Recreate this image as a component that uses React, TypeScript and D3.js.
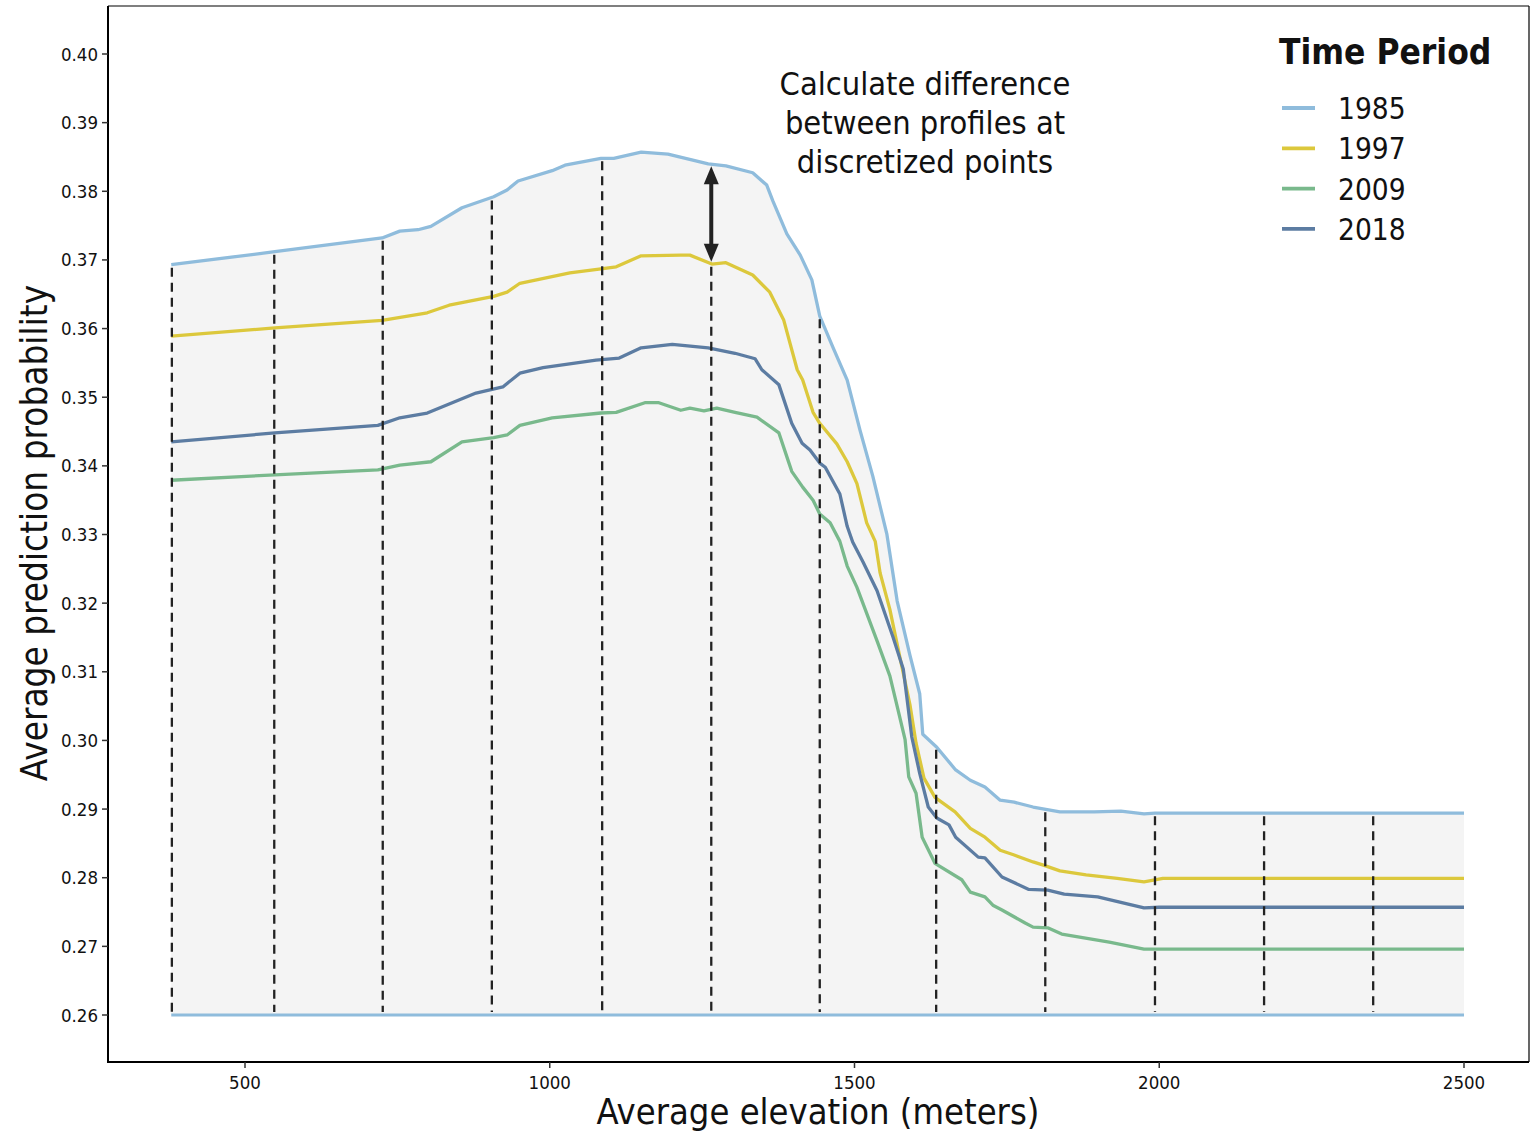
import React from "react";
import * as d3 from "d3";

const xTicks = [500, 1000, 1500, 2000, 2500];
const yTicks = [0.26, 0.27, 0.28, 0.29, 0.3, 0.31, 0.32, 0.33, 0.34, 0.35, 0.36, 0.37, 0.38, 0.39, 0.4];

const seriesNames = ["1985", "1997", "2009", "2018"];
const seriesColors = ["#8fbcdc", "#dcc83c", "#79b98c", "#5c7ca2"];

// [elevation, probability]
const s1985: [number, number][] = [
  [379, 0.3693], [549, 0.3712], [725, 0.3732], [754, 0.3742], [784, 0.3744], [805, 0.3749],
  [856, 0.3776], [908, 0.3792], [930, 0.3802], [948, 0.3815], [1004, 0.383], [1025, 0.3838],
  [1084, 0.3848], [1105, 0.3848], [1150, 0.3857], [1194, 0.3854], [1260, 0.384], [1289, 0.3837],
  [1333, 0.3827], [1356, 0.3809], [1366, 0.3786], [1389, 0.3738], [1411, 0.3707], [1430, 0.3671],
  [1443, 0.3618], [1465, 0.3572], [1488, 0.3525], [1509, 0.3452], [1530, 0.3385], [1553, 0.3301],
  [1570, 0.3203], [1591, 0.3124], [1607, 0.3068], [1612, 0.3009], [1635, 0.299], [1666, 0.2957],
  [1690, 0.2942], [1714, 0.2932], [1739, 0.2913], [1762, 0.291], [1793, 0.2903], [1837, 0.2896],
  [1893, 0.2896], [1937, 0.2897], [1975, 0.2893], [1993, 0.2894], [2500, 0.2894],
];
const s1997: [number, number][] = [
  [379, 0.3589], [549, 0.3601], [725, 0.3612], [799, 0.3623], [835, 0.3634], [908, 0.3647],
  [930, 0.3653], [951, 0.3666], [1033, 0.3681], [1084, 0.3687], [1109, 0.369], [1150, 0.3706],
  [1215, 0.3707], [1230, 0.3707], [1266, 0.3694], [1289, 0.3696], [1333, 0.3678], [1361, 0.3653],
  [1384, 0.3612], [1406, 0.354], [1415, 0.3525], [1432, 0.3478], [1443, 0.3462], [1471, 0.3432],
  [1488, 0.3406], [1504, 0.3374], [1520, 0.3317], [1534, 0.329], [1542, 0.3244], [1558, 0.3191],
  [1575, 0.3119], [1591, 0.3052], [1601, 0.2996], [1614, 0.2945], [1632, 0.2917], [1665, 0.2896],
  [1690, 0.2872], [1714, 0.2859], [1739, 0.284], [1762, 0.2833], [1793, 0.2823], [1811, 0.2818],
  [1837, 0.281], [1880, 0.2804], [1931, 0.2799], [1975, 0.2794], [2006, 0.2799], [2500, 0.2799],
];
const s2009: [number, number][] = [
  [379, 0.3379], [549, 0.3387], [718, 0.3394], [754, 0.3401], [805, 0.3406], [856, 0.3435],
  [908, 0.3441], [930, 0.3445], [951, 0.3459], [1004, 0.347], [1084, 0.3477], [1109, 0.3478],
  [1156, 0.3492], [1179, 0.3492], [1215, 0.3481], [1230, 0.3484], [1253, 0.348], [1274, 0.3484],
  [1304, 0.3478], [1340, 0.3471], [1376, 0.3448], [1391, 0.3408], [1397, 0.3392], [1415, 0.3369],
  [1432, 0.335], [1443, 0.333], [1460, 0.3317], [1476, 0.329], [1488, 0.3254], [1504, 0.3223],
  [1537, 0.3145], [1558, 0.3094], [1571, 0.3046], [1583, 0.3001], [1589, 0.2947], [1601, 0.2923],
  [1611, 0.2859], [1632, 0.2821], [1676, 0.2797], [1690, 0.2779], [1714, 0.2772], [1727, 0.276],
  [1742, 0.2753], [1780, 0.2734], [1793, 0.2728], [1817, 0.2727], [1840, 0.2718], [1918, 0.2706],
  [1975, 0.2696], [2500, 0.2696],
];
const s2018: [number, number][] = [
  [379, 0.3435], [549, 0.3448], [718, 0.3459], [754, 0.347], [799, 0.3477], [843, 0.3493],
  [879, 0.3506], [923, 0.3515], [951, 0.3535], [989, 0.3543], [1076, 0.3554], [1114, 0.3557],
  [1150, 0.3572], [1201, 0.3577], [1260, 0.3572], [1304, 0.3564], [1337, 0.3556], [1348, 0.354],
  [1376, 0.3518], [1397, 0.3462], [1414, 0.3433], [1427, 0.3423], [1443, 0.3404], [1452, 0.3398],
  [1476, 0.3359], [1488, 0.3312], [1497, 0.3289], [1514, 0.326], [1537, 0.3218], [1563, 0.3151],
  [1580, 0.3104], [1586, 0.3062], [1594, 0.3005], [1607, 0.2952], [1621, 0.2903], [1635, 0.2887],
  [1655, 0.2877], [1666, 0.2859], [1703, 0.283], [1714, 0.2829], [1742, 0.2801], [1786, 0.2783],
  [1817, 0.2782], [1844, 0.2776], [1899, 0.2772], [1937, 0.2764], [1975, 0.2756], [2000, 0.2757],
  [2500, 0.2757],
];
const allSeries = [s1985, s1997, s2009, s2018];

const discretePoints = [380, 548, 726, 905, 1086, 1265, 1443, 1634, 1813, 1993, 2172, 2351];
const arrowPoint = 1265;
const baseline = 0.26;

const annotationLines = ["Calculate difference", "between profiles at", "discretized points"];

const FONT = "'DejaVu Sans Condensed', 'DejaVu Sans', sans-serif";

function interp(series: [number, number][], x: number) {
  const i = d3.bisector((d: [number, number]) => d[0]).left(series, x);
  if (i <= 0) return series[0][1];
  if (i >= series.length) return series[series.length - 1][1];
  const a = series[i - 1], b = series[i];
  return a[1] + ((x - a[0]) / (b[0] - a[0])) * (b[1] - a[1]);
}

export default function App() {
  const x = d3.scaleLinear().domain([500, 2500]).range([245, 1464]);
  const y = d3.scaleLinear().domain([0.26, 0.4]).range([1015, 54]);
  const line = d3.line<[number, number]>().x((d) => x(d[0])).y((d) => y(d[1]));
  const area = d3
    .area<[number, number]>()
    .x((d) => x(d[0]))
    .y0(y(baseline))
    .y1((d) => y(d[1]));

  const left = 108, right = 1529, top = 6, bottom = 1062;

  const aTop = y(interp(s1985, arrowPoint)) + 2;
  const aBot = y(interp(s1997, arrowPoint)) - 2;
  const ax = x(arrowPoint);

  return (
    <div style={{ position: "absolute", left: 0, top: 0 }}>
      <svg width={1537} height={1133} style={{ display: "block", background: "#fff" }}>
        <path d={area(s1985) || ""} fill="#f4f4f4" />
        <line x1={x(s1985[0][0])} x2={x(2500)} y1={y(baseline)} y2={y(baseline)} stroke={seriesColors[0]} strokeWidth={2.8} />
        {allSeries.map((s, i) => (
          <path key={i} d={line(s) || ""} fill="none" stroke={seriesColors[i]} strokeWidth={3.3} strokeLinejoin="round" />
        ))}
        {discretePoints.map((p, i) => {
          const topV = p === arrowPoint ? interp(s1997, p) : interp(s1985, p);
          return (
            <line key={i} x1={x(p)} x2={x(p)} y1={y(topV) + 3} y2={y(baseline) - 3}
              stroke="#222" strokeWidth={2.3} strokeDasharray="9,6" />
          );
        })}
        {/* arrow */}
        <line x1={ax} x2={ax} y1={aTop + 14} y2={aBot - 14} stroke="#222" strokeWidth={4} />
        <path d={`M${ax},${aTop} L${ax - 7.5},${aTop + 18} L${ax + 7.5},${aTop + 18} Z`} fill="#222" />
        <path d={`M${ax},${aBot} L${ax - 7.5},${aBot - 18} L${ax + 7.5},${aBot - 18} Z`} fill="#222" />

        {/* annotation */}
        {annotationLines.map((t, i) => (
          <text key={i} x={925} y={95 + i * 39} textAnchor="middle" fontFamily={FONT} fontSize={32.3} fill="#111">
            {t}
          </text>
        ))}

        {/* border */}
        <line x1={left} x2={right} y1={top} y2={top} stroke="#000" strokeWidth={1.2} />
        <line x1={right} x2={right} y1={top} y2={bottom} stroke="#000" strokeWidth={1.2} />
        <line x1={left} x2={left} y1={top} y2={bottom + 1} stroke="#000" strokeWidth={2} />
        <line x1={left - 1} x2={right} y1={bottom} y2={bottom} stroke="#000" strokeWidth={2} />

        {/* y ticks */}
        {yTicks.map((t) => (
          <g key={t}>
            <line x1={left - 6} x2={left} y1={y(t)} y2={y(t)} stroke="#333" strokeWidth={1.5} />
            <text x={left - 10} y={y(t) + 6.5} textAnchor="end" fontFamily={FONT} fontSize={18.5} fill="#111">
              {t.toFixed(2)}
            </text>
          </g>
        ))}
        {/* x ticks */}
        {xTicks.map((t) => (
          <g key={t}>
            <line x1={x(t)} x2={x(t)} y1={bottom} y2={bottom + 6} stroke="#333" strokeWidth={1.5} />
            <text x={x(t)} y={bottom + 27} textAnchor="middle" fontFamily={FONT} fontSize={18.5} fill="#111">
              {t}
            </text>
          </g>
        ))}

        <text x={818} y={1124} textAnchor="middle" fontFamily={FONT} fontSize={36} fill="#111">
          Average elevation (meters)
        </text>
        <text transform={`translate(47,533) rotate(-90)`} textAnchor="middle" fontFamily={FONT} fontSize={36.6} fill="#111">
          Average prediction probability
        </text>

        {/* legend */}
        <text x={1279} y={64} fontFamily={FONT} fontSize={35} fontWeight="bold" fill="#111">
          Time Period
        </text>
        {seriesNames.map((n, i) => (
          <g key={n}>
            <line x1={1282} x2={1315} y1={108 + i * 40.3} y2={108 + i * 40.3} stroke={seriesColors[i]} strokeWidth={3.8} />
            <text x={1338} y={119 + i * 40.3} fontFamily={FONT} fontSize={29.5} fill="#111">
              {n}
            </text>
          </g>
        ))}
      </svg>
    </div>
  );
}
